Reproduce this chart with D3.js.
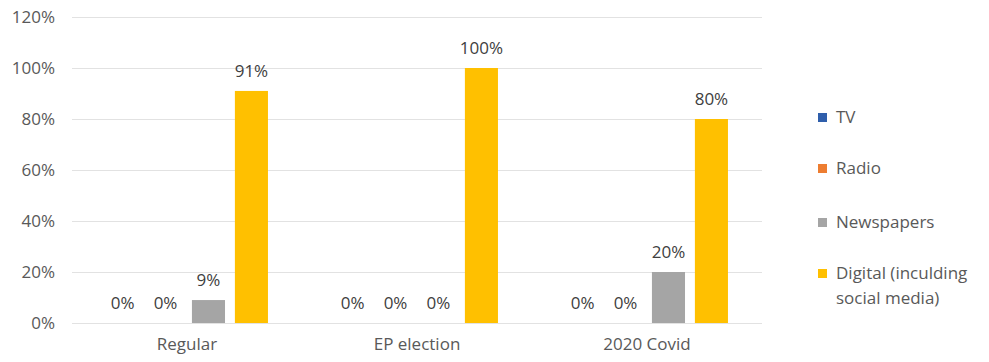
<!DOCTYPE html>
<html><head><meta charset="utf-8">
<script src="https://cdn.jsdelivr.net/npm/d3@7"></script>
<style>body{margin:0;background:#fff}svg{display:block}text{font-family:"Open Sans","Liberation Sans",sans-serif}</style>
</head><body><svg id="c" width="989" height="362"></svg>
<script>
const categories = ["Regular", "EP election", "2020 Covid"];
const seriesNames = ["TV", "Radio", "Newspapers", "Digital (inculding social media)"];
const tvValues = [0, 0, 0];
const radioValues = [0, 0, 0];
const newspaperValues = [9, 0, 20];
const digitalValues = [91, 100, 80];
const yTicks = [0, 20, 40, 60, 80, 100, 120];
const colors = ["#2F5EAB", "#ED7D31", "#A5A5A5", "#FFC000"];

const allSeries = [tvValues, radioValues, newspaperValues, digitalValues];
const svg = d3.select("#c");
const mLeft = 72, mRight = 762, mTop = 17, mBottom = 323;

const y = d3.scaleLinear().domain([0, 120]).range([mBottom, mTop]);
const x0 = d3.scaleBand().domain(categories).range([mLeft, mRight]).paddingInner(0.296).paddingOuter(0.148);
const x1 = d3.scaleBand().domain(d3.range(4)).range([0, x0.bandwidth()]).paddingInner(0.23).paddingOuter(0);

// grid
svg.append("g").selectAll("line").data(yTicks).join("line")
  .attr("x1", mLeft).attr("x2", mRight)
  .attr("y1", d => y(d) + 0.5).attr("y2", d => y(d) + 0.5)
  .attr("stroke", "#E2E2E2").attr("stroke-width", 1);

// y axis
const yAxis = d3.axisLeft(y).tickValues(yTicks).tickFormat(d => d + "%").tickSize(0).tickPadding(0);
const ya = svg.append("g").attr("transform", `translate(${mLeft - 17},0)`).call(yAxis);
ya.select(".domain").remove();
ya.selectAll("text").attr("fill", "#595959").style("font-size", "17px");

// x axis
const xAxis = d3.axisBottom(x0).tickSize(0).tickPadding(0);
const xa = svg.append("g").attr("transform", `translate(0,${mBottom + 15})`).call(xAxis);
xa.select(".domain").remove();
xa.selectAll("text").attr("fill", "#595959").style("font-size", "17px");

// bars
const groups = svg.append("g").selectAll("g").data(categories).join("g")
  .attr("transform", d => `translate(${x0(d)},0)`);
groups.each(function(cat, ci) {
  const g = d3.select(this);
  allSeries.forEach((vals, si) => {
    const v = vals[ci];
    if (v > 0) {
      g.append("rect").attr("x", x1(si)).attr("width", x1.bandwidth())
        .attr("y", y(v)).attr("height", y(0) - y(v)).attr("fill", colors[si]);
    }
    g.append("text").attr("x", x1(si) + x1.bandwidth() / 2)
      .attr("y", y(v) - 14).attr("text-anchor", "middle")
      .attr("fill", "#404040").style("font-size", "17px").text(v + "%");
  });
});

// legend
const legY = [117, 168, 222, 273];
const leg = svg.append("g");
seriesNames.forEach((n, i) => {
  leg.append("rect").attr("x", 818).attr("y", legY[i] - 4).attr("width", 9).attr("height", 9).attr("fill", colors[i]);
  const t = leg.append("text").attr("x", 836).attr("y", legY[i] + 6).attr("fill", "#595959").style("font-size", "17px");
  if (i === 3) {
    t.append("tspan").attr("x", 836).text("Digital (inculding");
    t.append("tspan").attr("x", 836).attr("dy", 25).text("social media)");
  } else t.text(n);
});
</script></body></html>
